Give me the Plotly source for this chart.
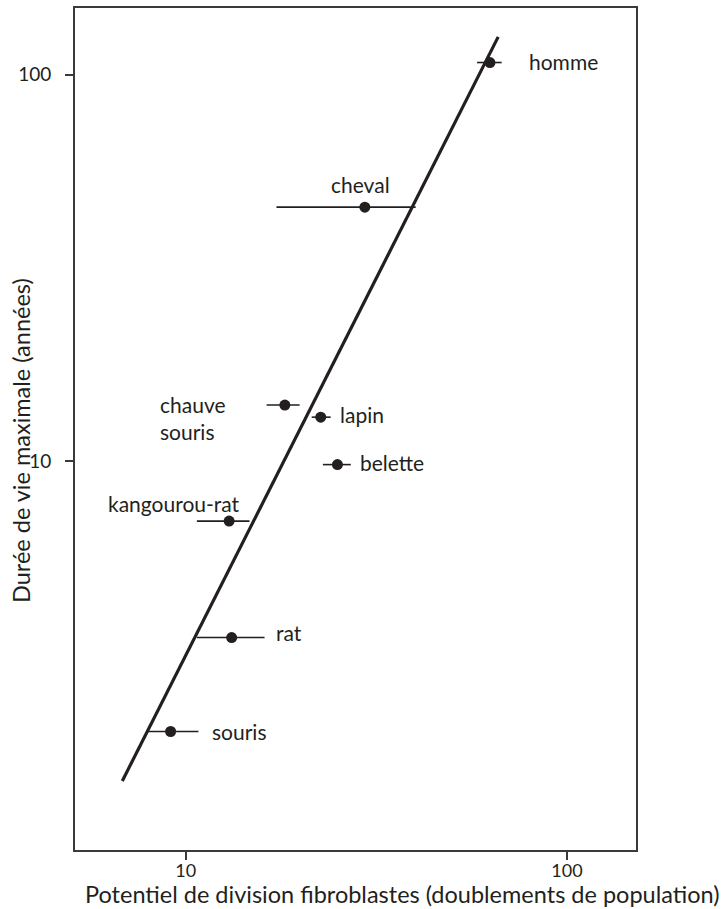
import math
import plotly.graph_objects as go

# Data
species = ["homme", "cheval", "chauve<br>souris", "lapin", "belette", "kangourou-rat", "rat", "souris"]
division_potential = [62.8, 29.5, 18.2, 22.6, 25.0, 13.0, 13.2, 9.13]
division_low = [58.1, 17.3, 16.3, 21.4, 22.9, 10.7, 10.7, 7.9]
division_high = [67.4, 40.1, 19.9, 24.0, 27.1, 14.7, 16.1, 10.8]
max_lifespan = [107.4, 45.4, 13.97, 13.0, 9.8, 7.0, 3.5, 2.0]

fit_x = [6.82, 66.0]
fit_y = [1.49, 125.1]

x_ticks = [10, 100]
y_ticks = [10, 100]

# label placement (pixel offsets from the point), style only
label_style = {
    "homme": dict(xanchor="left", xshift=37, yshift=1),
    "cheval": dict(xanchor="center", xshift=-4, yshift=23),
    "chauve<br>souris": dict(xanchor="left", xshift=-127, yshift=-13),
    "lapin": dict(xanchor="left", xshift=17, yshift=3),
    "belette": dict(xanchor="left", xshift=21, yshift=2),
    "kangourou-rat": dict(xanchor="center", xshift=-55, yshift=18),
    "rat": dict(xanchor="left", xshift=42, yshift=5),
    "souris": dict(xanchor="left", xshift=39, yshift=0),
}

FONT = "Lato"
INK = "#231f20"
FRAME = "#3a3a3a"

fig = go.Figure()

fig.add_trace(go.Scatter(
    x=fit_x, y=fit_y, mode="lines",
    line=dict(color=INK, width=3.2),
    hoverinfo="skip", showlegend=False,
))

fig.add_trace(go.Scatter(
    x=division_potential, y=max_lifespan, mode="markers",
    marker=dict(color=INK, size=11),
    error_x=dict(
        type="data", symmetric=False,
        array=[h - v for h, v in zip(division_high, division_potential)],
        arrayminus=[v - l for v, l in zip(division_potential, division_low)],
        color=INK, thickness=1.6, width=0,
    ),
    text=species, showlegend=False,
))

for name, xv, yv in zip(species, division_potential, max_lifespan):
    st = label_style[name]
    fig.add_annotation(
        x=math.log10(xv), y=math.log10(yv), xref="x", yref="y",
        text=name, showarrow=False, align="left",
        xanchor=st["xanchor"], yanchor="middle",
        xshift=st["xshift"], yshift=st["yshift"],
        font=dict(family=FONT, size=21, color=INK),
    )

# axis titles as annotations (positioned as in reference)
fig.add_annotation(
    text="Potentiel de division fibroblastes (doublements de population)",
    xref="paper", yref="paper", x=(402 - 75) / 561, y=(850 - 909) / 844,
    xanchor="center", yanchor="bottom", showarrow=False, borderpad=0,
    font=dict(family=FONT, size=23.5, color=INK),
)
fig.add_annotation(
    text="Durée de vie maximale (années)",
    xref="paper", yref="paper", x=(21 - 75) / 561, y=(850 - 440) / 844,
    xanchor="center", yanchor="middle", showarrow=False, textangle=-90,
    font=dict(family=FONT, size=23.5, color=INK),
)

axis_common = dict(
    showgrid=False, zeroline=False,
    showline=True, linecolor=FRAME, linewidth=1.6, mirror=True,
    ticks="outside", ticklen=8, tickwidth=1.6, tickcolor=FRAME,
)

fig.update_xaxes(type="log", range=[0.7097, 2.181], tickvals=x_ticks,
                 ticktext=[str(v) for v in x_ticks], ticklabelstandoff=-4,
                 tickfont=dict(family=FONT, size=18, color=INK), **axis_common)
fig.update_yaxes(type="log", range=[-0.0054, 2.172], tickvals=y_ticks,
                 ticktext=[str(v) for v in y_ticks], ticklabelstandoff=10,
                 tickfont=dict(family=FONT, size=19, color=INK), **axis_common)

fig.update_layout(
    width=723, height=909,
    margin=dict(l=75, r=87, t=6, b=59),
    paper_bgcolor="white", plot_bgcolor="white",
    font=dict(family=FONT, color=INK),
)

fig.write_html("out.html")
